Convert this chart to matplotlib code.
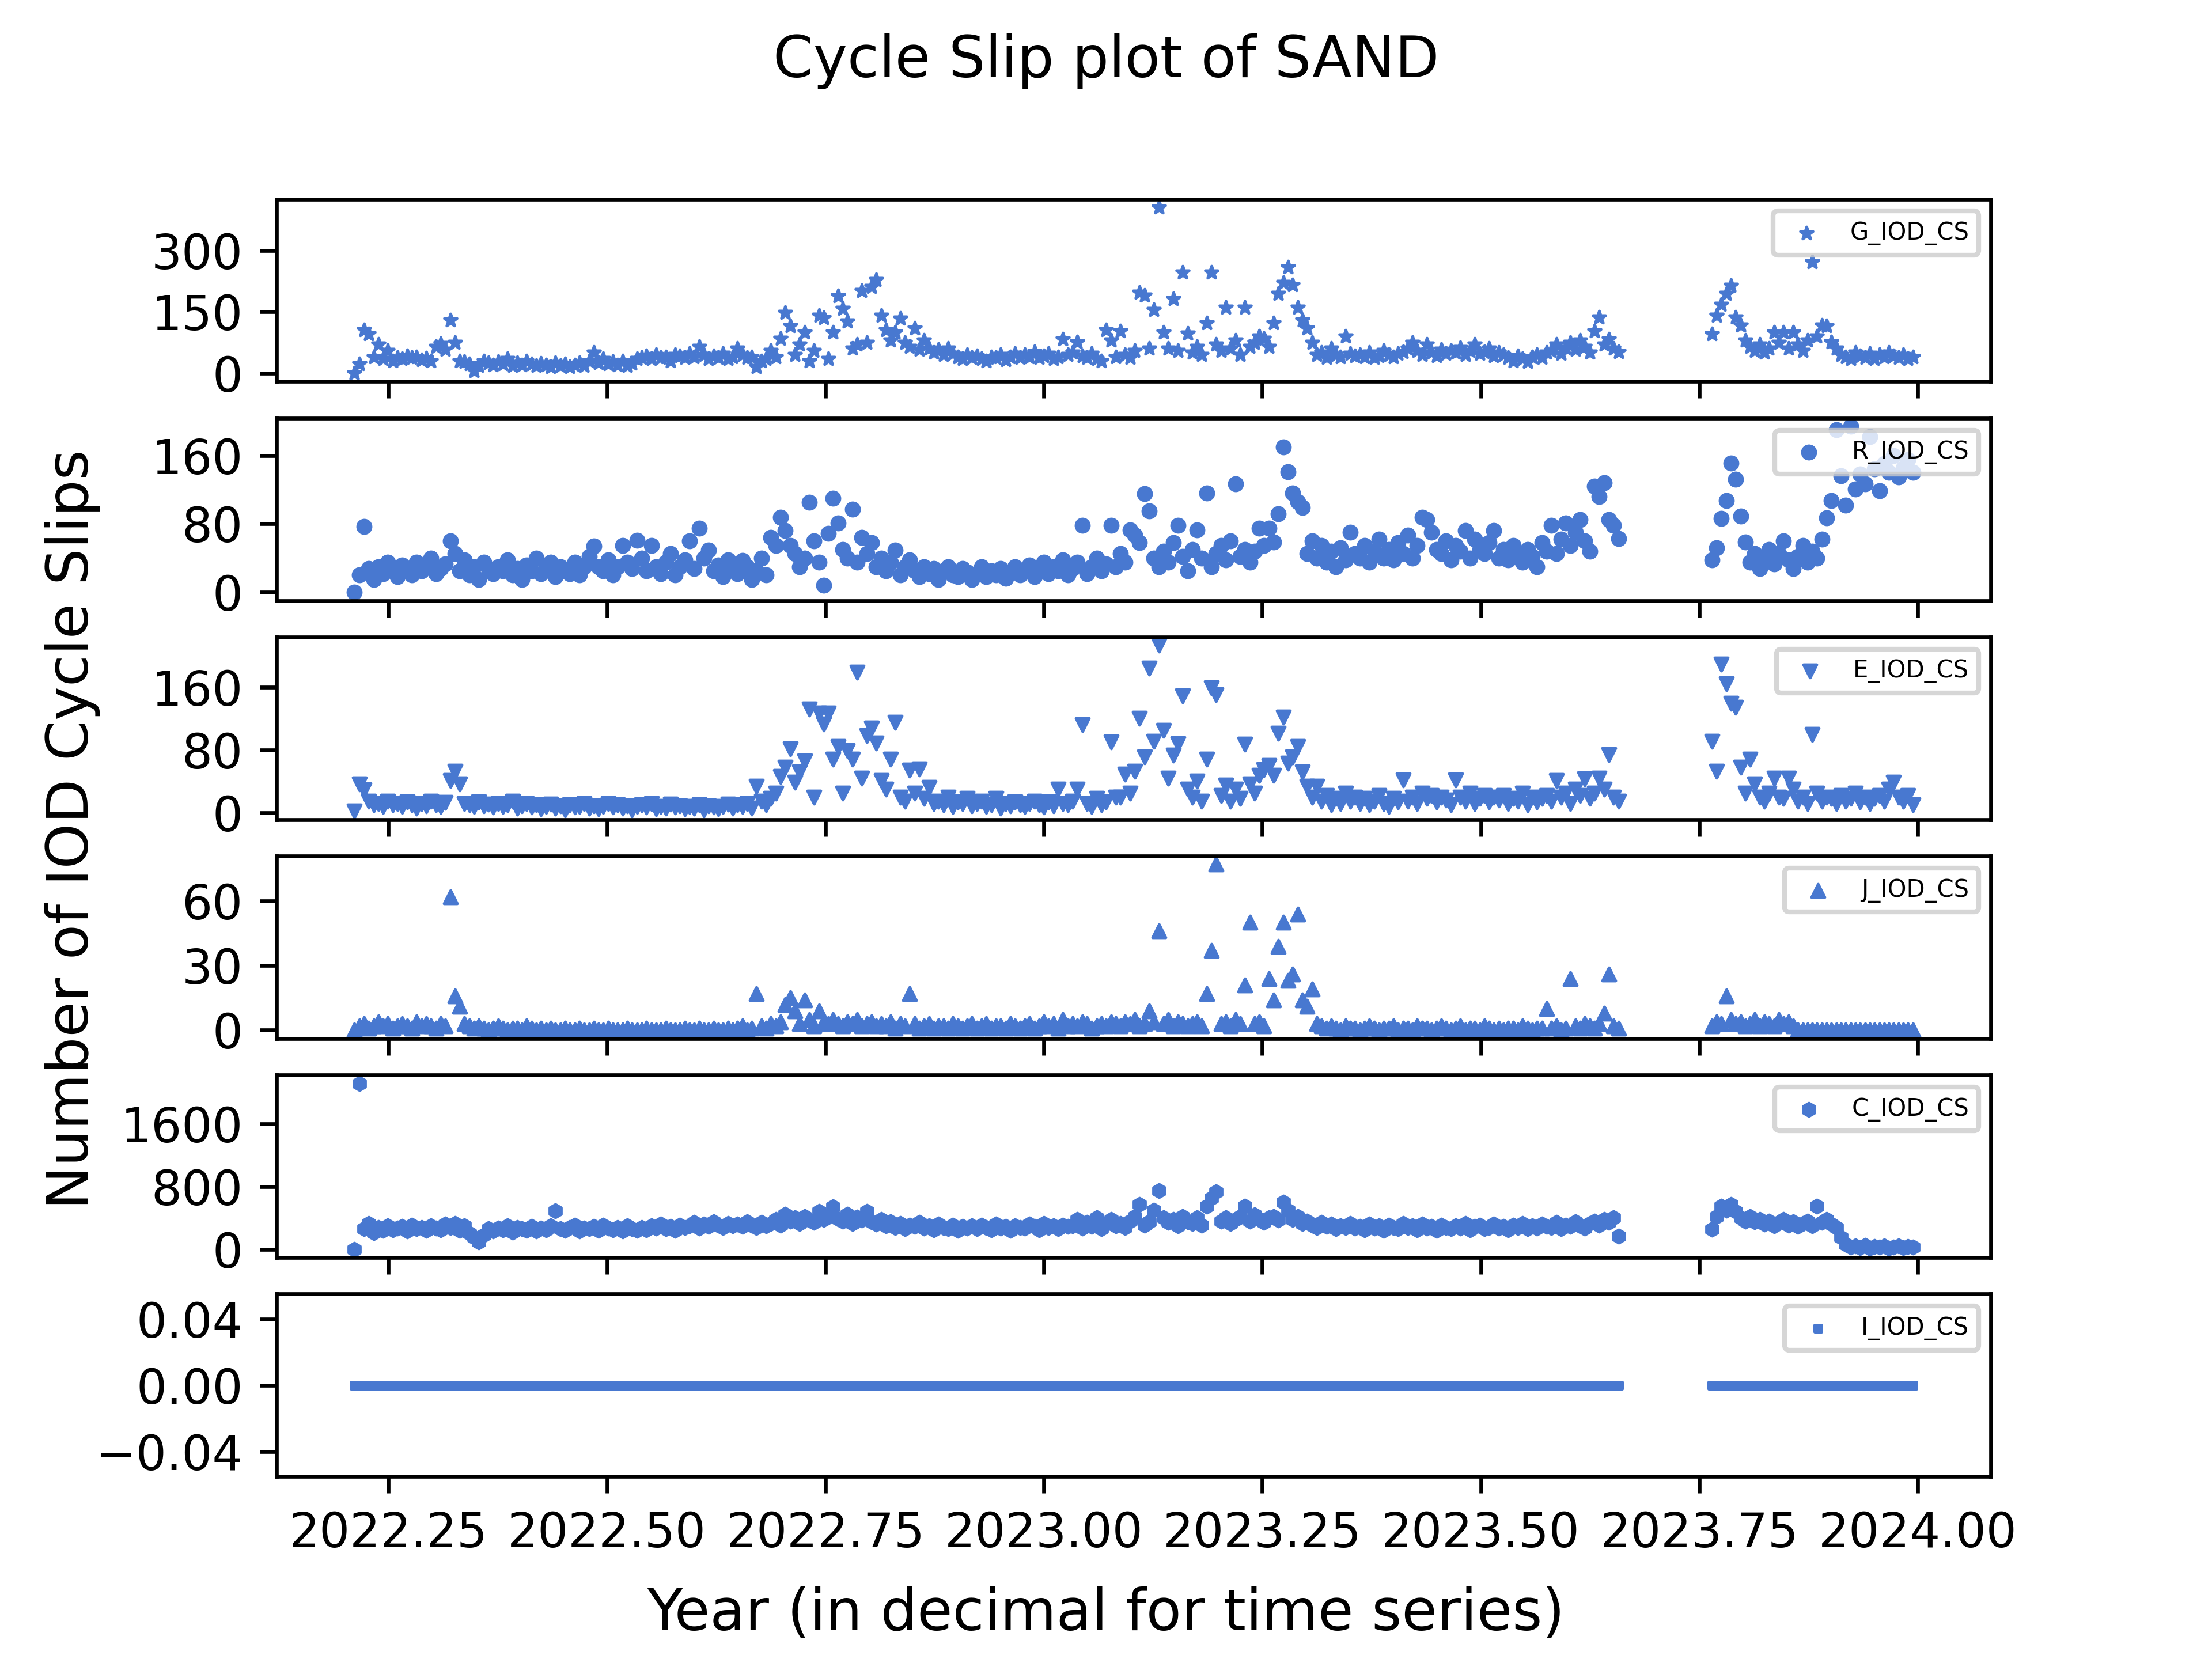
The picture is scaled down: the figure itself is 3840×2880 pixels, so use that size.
import numpy as np
import matplotlib
matplotlib.use("Agg")
import matplotlib.pyplot as plt
from matplotlib.ticker import MaxNLocator

# sample days counted from 2022-01-01 (every second day), two spans with a gap
days_a = np.arange(77, 606, 2)
days_b = np.arange(644, 729, 2)

g_a = [0, 22, 105, 95, 40, 70, 35, 55, 30, 38,
       35, 42, 38, 40, 32, 36, 30, 65, 72, 58,
       130, 75, 30, 28, 22, 5, 18, 30, 25, 20,
       28, 22, 35, 18, 25, 20, 30, 22, 18, 24,
       20, 15, 25, 18, 22, 16, 20, 25, 18, 30,
       50, 25, 35, 22, 28, 20, 30, 18, 24, 35,
       38, 42, 35, 45, 38, 40, 30, 45, 42, 38,
       48, 40, 65, 45, 35, 42, 38, 48, 35, 40,
       60, 45, 38, 40, 15, 30, 35, 55, 40, 85,
       148, 116, 45, 70, 100, 30, 55, 141, 135, 35,
       100, 189, 158, 126, 60, 70, 201, 75, 211, 228,
       141, 106, 80, 100, 133, 75, 65, 109, 58, 80,
       60, 50, 57, 45, 60, 48, 40, 35, 45, 38,
       42, 35, 30, 40, 38, 45, 32, 40, 48, 38,
       45, 40, 52, 38, 42, 48, 35, 40, 83, 45,
       50, 76, 42, 38, 48, 35, 30, 106, 80, 40,
       103, 45, 38, 55, 197, 190, 60, 155, 405, 100,
       60, 181, 55, 246, 97, 50, 65, 45, 123, 246,
       70, 55, 161, 60, 80, 45, 161, 65, 75, 90,
       85, 65, 123, 194, 221, 259, 215, 161, 129, 110,
       75, 45, 50, 38, 60, 45, 40, 90, 48, 42,
       45, 40, 50, 38, 42, 55, 45, 40, 48, 52,
       60, 75, 55, 45, 70, 50, 42, 58, 48, 55,
       50, 62, 45, 55, 70, 48, 52, 60, 42, 50,
       45, 38, 30, 42, 35, 28, 40, 45, 38, 50,
       55, 70, 48, 62, 75, 58, 80, 65, 50, 103,
       136, 70, 83, 60, 52]
g_b = [96, 141, 168, 194, 214, 136, 117, 80, 65, 55,
       70, 50, 60, 100, 75, 100, 60, 100, 70, 55,
       80, 272, 90, 117, 115, 76, 60, 45, 40, 35,
       50, 42, 38, 48, 35, 45, 40, 50, 42, 38,
       45, 35, 40]

r_a = [0, 20, 77, 28, 15, 30, 22, 35, 25, 18,
       32, 28, 20, 35, 25, 30, 40, 22, 28, 33,
       60, 45, 25, 38, 20, 30, 15, 35, 28, 22,
       30, 25, 38, 20, 28, 15, 32, 25, 40, 22,
       28, 35, 18, 30, 25, 22, 35, 20, 30, 42,
       54, 30, 25, 38, 20, 30, 55, 35, 28, 61,
       40, 25, 55, 30, 22, 35, 45, 20, 30, 38,
       60, 28, 75, 40, 49, 25, 32, 18, 38, 28,
       22, 37, 30, 15, 25, 40, 20, 64, 55, 88,
       72, 55, 45, 30, 40, 105, 60, 35, 8, 69,
       110, 81, 50, 40, 97, 35, 64, 45, 58, 30,
       40, 25, 35, 49, 20, 30, 38, 25, 18, 30,
       22, 28, 15, 25, 30, 20, 18, 28, 24, 15,
       22, 30, 18, 25, 20, 28, 16, 24, 30, 20,
       25, 32, 18, 28, 35, 22, 30, 25, 38, 20,
       28, 35, 78, 22, 30, 40, 25, 33, 78, 30,
       45, 35, 73, 67, 58, 115, 95, 40, 30, 48,
       35, 58, 78, 42, 25, 50, 73, 40, 116, 30,
       45, 55, 38, 60, 127, 42, 50, 35, 48, 75,
       55, 75, 59, 92, 170, 141, 116, 106, 99, 45,
       60, 40, 55, 35, 48, 30, 52, 38, 70, 45,
       40, 55, 35, 48, 62, 40, 50, 38, 58, 45,
       67, 40, 55, 88, 85, 70, 50, 45, 60, 38,
       55, 48, 72, 40, 62, 50, 45, 58, 72, 40,
       50, 38, 55, 45, 35, 50, 42, 30, 58, 48,
       78, 45, 62, 81, 55, 70, 85, 60, 48, 124,
       112, 128, 85, 78, 63]
r_b = [38, 52, 86, 107, 151, 132, 89, 59, 35, 45,
       28, 40, 50, 33, 45, 60, 38, 28, 42, 55,
       35, 48, 40, 62, 87, 107, 190, 136, 102, 194,
       121, 138, 127, 182, 144, 119, 150, 140, 160, 135,
       145, 155, 140]

e_a = [2, 37, 29, 15, 10, 12, 8, 15, 10, 12,
       8, 14, 10, 6, 12, 9, 15, 10, 8, 13,
       41, 53, 37, 12, 10, 8, 14, 9, 11, 7,
       12, 8, 10, 15, 6, 9, 12, 7, 10, 5,
       8, 11, 6, 9, 4, 10, 7, 8, 12, 6,
       9, 5, 8, 12, 7, 10, 6, 9, 4, 8,
       10, 7, 12, 5, 8, 6, 11, 7, 9, 5,
       8, 6, 10, 4, 9, 7, 5, 8, 11, 6,
       10, 8, 12, 6, 34, 15, 10, 18, 25, 46,
       58, 81, 39, 52, 66, 132, 20, 127, 113, 127,
       68, 84, 25, 79, 68, 179, 44, 98, 108, 89,
       41, 30, 68, 115, 20, 15, 54, 25, 56, 18,
       32, 12, 15, 10, 20, 8, 14, 12, 18, 9,
       12, 15, 8, 10, 18, 6, 12, 9, 14, 10,
       8, 12, 15, 10, 7, 14, 9, 30, 12, 10,
       15, 30, 112, 12, 8, 18, 10, 14, 90, 20,
       20, 49, 25, 53, 120, 71, 184, 91, 213, 105,
       44, 73, 88, 149, 30, 20, 40, 15, 68, 159,
       150, 22, 35, 15, 30, 18, 87, 37, 25, 48,
       55, 60, 48, 101, 122, 63, 71, 84, 52, 34,
       20, 34, 15, 22, 10, 18, 12, 25, 15, 20,
       12, 18, 10, 15, 22, 12, 8, 18, 14, 42,
       15, 20, 12, 25, 18, 22, 14, 20, 16, 10,
       42, 20, 15, 25, 12, 18, 22, 14, 20, 16,
       22, 12, 18, 15, 25, 10, 20, 14, 18, 22,
       15, 41, 20, 25, 12, 30, 22, 43, 18, 25,
       44, 30, 74, 20, 15]
e_b = [91, 53, 189, 164, 139, 134, 58, 25, 68, 37,
       20, 15, 25, 44, 20, 18, 44, 30, 15, 20,
       12, 100, 25, 15, 20, 18, 12, 22, 15, 18,
       25, 14, 20, 12, 18, 22, 15, 30, 39, 20,
       15, 22, 10]

j_a = [0, 2, 3, 1, 2, 4, 2, 3, 1, 2,
       3, 2, 1, 4, 2, 3, 2, 1, 3, 2,
       62, 16, 11, 3, 2, 1, 2, 1, 0, 1,
       2, 1, 0, 1, 1, 0, 2, 1, 0, 1,
       0, 1, 0, 0, 1, 0, 0, 1, 0, 0,
       1, 0, 0, 1, 0, 0, 0, 1, 0, 0,
       0, 1, 0, 0, 0, 1, 0, 0, 0, 1,
       0, 0, 1, 0, 0, 1, 0, 0, 1, 0,
       1, 2, 0, 1, 17, 2, 1, 3, 2, 4,
       12, 15, 9, 3, 14, 5, 2, 9, 4, 3,
       5, 3, 2, 4, 3, 5, 2, 3, 4, 2,
       3, 2, 4, 1, 3, 2, 17, 3, 1, 2,
       3, 1, 2, 2, 1, 3, 2, 1, 2, 3,
       1, 2, 3, 1, 2, 2, 1, 3, 2, 1,
       2, 3, 1, 2, 4, 2, 3, 1, 5, 2,
       3, 2, 4, 3, 1, 2, 3, 2, 4, 3,
       2, 4, 3, 5, 2, 3, 9, 4, 46, 3,
       5, 2, 4, 3, 2, 3, 4, 2, 17, 37,
       77, 3, 4, 2, 5, 3, 21, 50, 3, 4,
       2, 24, 14, 39, 50, 23, 26, 54, 14, 11,
       19, 3, 2, 1, 2, 1, 0, 2, 1, 1,
       0, 1, 2, 1, 0, 1, 1, 2, 0, 1,
       1, 0, 2, 1, 1, 0, 1, 2, 1, 0,
       1, 2, 0, 1, 1, 0, 2, 1, 0, 1,
       0, 1, 1, 0, 2, 1, 0, 1, 1, 10,
       1, 2, 0, 1, 24, 2, 1, 3, 2, 1,
       3, 8, 26, 2, 1]
j_b = [2, 4, 3, 16, 5, 3, 4, 2, 3, 5,
       2, 4, 3, 2, 5, 3, 4, 2, 0, 0,
       0, 0, 0, 0, 0, 0, 0, 0, 0, 0,
       0, 0, 0, 0, 0, 0, 0, 0, 0, 0,
       0, 0, 0]

c_a = [0, 2120, 260, 330, 210, 280, 240, 300, 250, 270,
       290, 230, 310, 260, 280, 240, 300, 270, 250, 320,
       280, 330, 240, 300, 200, 150, 90, 180, 260, 230,
       270, 250, 300, 220, 280, 260, 240, 290, 230, 270,
       250, 300, 488, 260, 240, 280, 310, 230, 270, 260,
       290, 240, 310, 270, 250, 280, 230, 300, 260, 240,
       280, 250, 300, 270, 320, 260, 290, 240, 310, 280,
       300, 340, 270, 320, 290, 350, 310, 280, 330, 300,
       320, 290, 350, 310, 280, 340, 300, 330, 380, 310,
       450, 360, 400, 330, 420, 370, 340, 480, 380, 420,
       540, 390, 360, 450, 330, 410, 370, 480, 350, 320,
       380, 300, 350, 280, 330, 260, 310, 290, 340, 270,
       300, 250, 320, 280, 260, 310, 240, 290, 270, 300,
       260, 310, 280, 250, 320, 270, 290, 240, 300, 280,
       270, 320, 290, 250, 330, 280, 300, 260, 310, 290,
       300, 380, 270, 340, 290, 400, 260, 320, 380, 300,
       330, 280, 360, 420, 574, 310, 350, 500, 747, 400,
       340, 380, 300, 420, 350, 330, 400, 310, 549, 649,
       735, 360, 400, 330, 380, 420, 549, 360, 438, 390,
       340, 400, 420, 370, 598, 500, 380, 420, 330, 360,
       310, 280, 340, 290, 320, 260, 300, 280, 330, 270,
       290, 250, 320, 270, 300, 240, 310, 280, 260, 330,
       280, 300, 250, 320, 270, 290, 240, 310, 280, 260,
       300, 270, 330, 250, 290, 310, 260, 280, 320, 270,
       290, 250, 310, 280, 330, 260, 300, 270, 320, 290,
       280, 340, 260, 310, 290, 350, 300, 270, 330, 360,
       310, 380, 340, 400, 167]
c_b = [252, 420, 549, 500, 574, 480, 400, 360, 420, 350,
       380, 320, 360, 300, 340, 380, 310, 350, 290, 330,
       360, 300, 549, 340, 377, 320, 280, 154, 60, 30,
       45, 20, 50, 15, 35, 25, 40, 10, 30, 45,
       20, 35, 25]

# IRNSS never reported a slip at this station
i_a = [0] * len(days_a)
i_b = [0] * len(days_b)

labels = ['G_IOD_CS', 'R_IOD_CS', 'E_IOD_CS', 'J_IOD_CS', 'C_IOD_CS', 'I_IOD_CS']
markers = ['*', 'o', 'v', '^', 'h', 's']
sizes = [7.5, 7.5, 7.5, 7.5, 7.5, 2.2]
series = [(g_a, g_b), (r_a, r_b), (e_a, e_b), (j_a, j_b), (c_a, c_b), (i_a, i_b)]

years = np.concatenate([2022 + days_a / 365, 2022 + days_b / 365])

fig, axes = plt.subplots(6, 1, sharex=True, figsize=(6.4, 4.8), dpi=600)

for ax, label, marker, size, (part_a, part_b) in zip(axes, labels, markers, sizes, series):
    values = np.concatenate([part_a, part_b])
    ax.scatter(years, values, s=size, marker=marker, color='#4878d0',
               linewidths=0.6, label=label)
    ax.legend(loc='upper right', fontsize=5)
    ax.yaxis.set_major_locator(MaxNLocator(nbins=3, steps=[1, 1.5, 2, 2.5, 3, 4, 5, 6, 8, 10]))

fig.suptitle('Cycle Slip plot of SAND')
fig.supxlabel('Year (in decimal for time series)')
fig.supylabel('Number of IOD Cycle Slips')

fig.savefig('out.png')
